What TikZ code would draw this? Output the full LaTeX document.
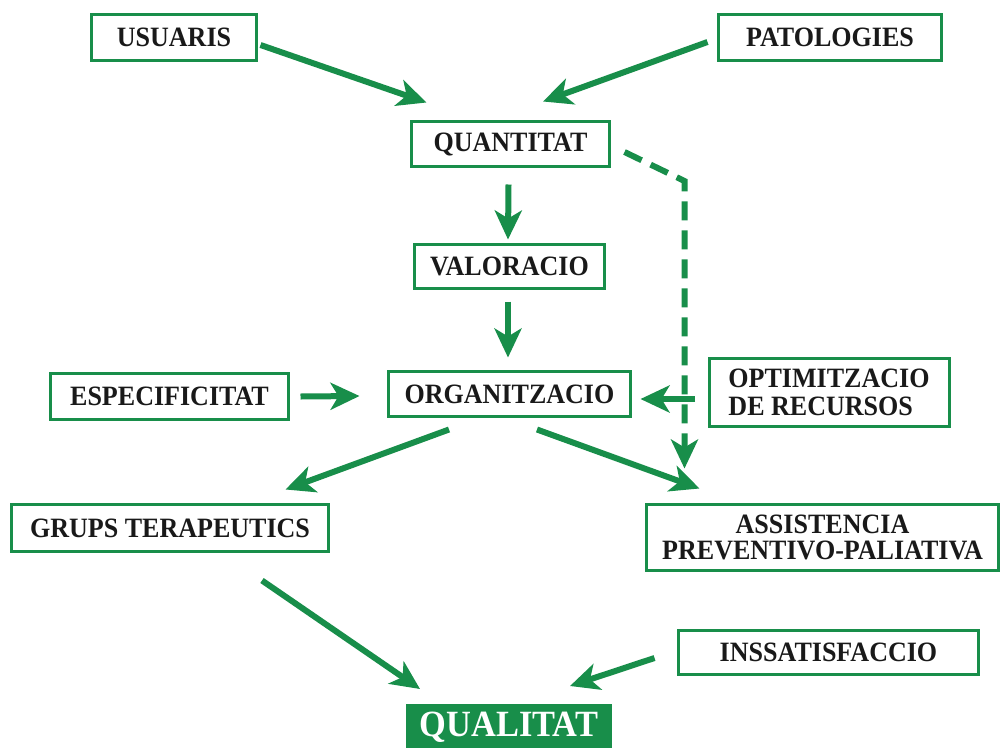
\documentclass[tikz,border=0pt]{standalone}
\usepackage{fontspec}
\setmainfont{Liberation Serif}[FakeStretch=0.93]
\usetikzlibrary{arrows.meta,calc}
\definecolor{grn}{RGB}{24,142,74}
\begin{document}
\begin{tikzpicture}[x=1pt,y=-1pt,
  box/.style={draw=grn,line width=3pt,outer sep=0pt,inner sep=0pt,
    font=\fontsize{28}{28}\selectfont\bfseries,text=black!90,align=center},
  arr/.style={draw=grn,line width=6pt,-{Stealth[length=29pt,width=27pt,inset=8pt]}},
  greendash/.style={dash pattern=on 19pt off 10pt}]
\useasboundingbox (0,0) rectangle (1003,747);
\clip (0,0) rectangle (1003,747);
\fill[white] (0,0) rectangle (1003,747);
\node[box,minimum width=165,minimum height=46] (usuaris) at (174,37.5) {USUARIS};
\node[box,minimum width=223,minimum height=46] (patologies) at (830,37.5) {PATOLOGIES};
\node[box,minimum width=198,minimum height=45] (quantitat) at (510.5,144) {QUANTITAT};
\node[box,minimum width=190,minimum height=44] (valoracio) at (509.5,266.5) {VALORACIO};
\node[box,minimum width=242,minimum height=45] (organitzacio) at (509.5,394) {ORGANITZACIO};
\node[box,minimum width=238,minimum height=46] (especificitat) at (169.5,396.5) {ESPECIFICITAT};
\node[box,minimum width=240,minimum height=68,align=left] (optimitzacio) at (829,392.5) {OPTIMITZACIO\\DE RECURSOS};
\node[box,minimum width=317,minimum height=47] (grups) at (170,528) {GRUPS TERAPEUTICS};
\node[box,minimum width=352,minimum height=66,font=\fontsize{28}{26.5}\selectfont\bfseries] (assistencia) at (822.5,537.5) {ASSISTENCIA\\PREVENTIVO-PALIATIVA};
\node[box,minimum width=300,minimum height=44] (inssatisfaccio) at (828.5,652.5) {INSSATISFACCIO};
\node[fill=grn,outer sep=0pt,inner sep=0pt,minimum width=206,minimum height=46,text=white,
  font=\fontsize{37}{38}\selectfont\bfseries] (qualitat) at (509,727) {QUALITAT};

\draw[arr] ($(usuaris.east)+(4,7.5)$) -- ($(quantitat.north west)+(15,-19)$);
\draw[arr] ($(patologies.west)+(-11,4.5)$) -- ($(quantitat.north)+(32.5,-20)$);
\draw[arr] ($(quantitat.south)+(-2,18)$) -- ($(valoracio.north)+(-1.5,-5)$);
\draw[arr] ($(valoracio.south)+(-1.5,13)$) -- ($(organitzacio.north)+(-1.5,-14)$);
\draw[arr] ($(especificitat.east)+(12,0)$) -- ($(organitzacio.west)+(-29,2)$);
\coordinate (dc) at ($(quantitat.east)+(75,37)$);
\draw[arr,greendash] ($(quantitat.east)+(15,8)$) -- (dc) -- ($(dc |- assistencia.north)+(0,-36)$);
\draw[arr] ($(optimitzacio.west)+(-14,6.5)$) -- ($(organitzacio.east)+(10,5)$);
\draw[arr] ($(organitzacio.south)+(-60.5,13)$) -- ($(grups.north east)+(-43,-15)$);
\draw[arr] ($(organitzacio.south)+(27.5,13)$) -- ($(assistencia.north west)+(53,-16)$);
\draw[arr] ($(grups.south)+(92,29)$) -- ($(qualitat.north west)+(14,-15)$);
\draw[arr] ($(inssatisfaccio.west)+(-24,5.5)$) -- ($(qualitat.north east)+(-42,-18)$);
\end{tikzpicture}
\end{document}
